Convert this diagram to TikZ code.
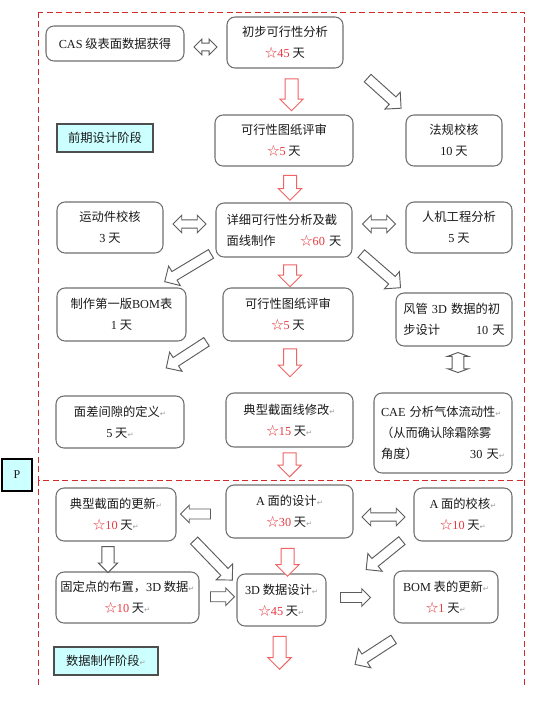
\documentclass[tikz,border=0pt]{standalone}
\usepackage{fontspec}
\setmainfont{Liberation Serif}
\newfontfamily\cjk{Noto Sans CJK SC}
\newfontfamily\markfont{DejaVu Sans}
\usetikzlibrary{calc,positioning,shapes.arrows}
\definecolor{plInk}{HTML}{1A1A1A}
\definecolor{plEdge}{HTML}{6F6F6F}
\definecolor{plFrame}{HTML}{D22B2B}
\definecolor{plDay}{HTML}{E53B40}
\definecolor{plArrowRed}{HTML}{EF6464}
\definecolor{plArrowGray}{HTML}{5C5C5C}
\definecolor{plStage}{HTML}{CCFFFF}
\definecolor{plMark}{HTML}{A0A0A0}
\newcommand{\lat}[1]{{\rmfamily #1}}
\newcommand{\starday}[1]{{\color{plDay}☆\lat{#1}} 天}
\newcommand{\ret}{{\markfont\fontsize{5.5}{6}\selectfont\color{plMark}↵}}
\tikzset{
  pl canvas/.style={fill=white},
  pl frame/.style={draw=plFrame, line width=.75pt, dash pattern=on 4.5pt off 2.6pt},
  pl box/.style 2 args={
    draw=plEdge, line width=.8pt, rounded corners=6pt, fill=white,
    minimum width=#1*.75pt, minimum height=#2*.75pt, inner sep=0pt,
    align=center, text=plInk, font=\cjk\fontsize{9.2}{16}\selectfont
  },
  pl stage/.style 2 args={
    draw=plEdge!70!black, line width=.8pt, fill=plStage,
    minimum width=#1*.75pt, minimum height=#2*.75pt, inner sep=0pt,
    text=plInk, font=\cjk\fontsize{9.2}{12}\selectfont
  },
  pl down/.style={
    single arrow, draw=plArrowRed, fill=white, line width=.75pt, rotate=-90,
    inner sep=0pt, inner ysep=4.5pt, single arrow head extend=3.8pt,
    minimum height=#1*.75pt
  },
  pl way/.style={
    single arrow, draw=plArrowGray, fill=white, line width=.7pt,
    inner sep=0pt, inner ysep=3.4pt, single arrow head extend=4.8pt,
    minimum height=#1*.75pt
  },
  pl both/.style={
    double arrow, draw=plArrowGray, fill=white, line width=.7pt,
    inner sep=0pt, inner ysep=2.8pt, double arrow head extend=3.4pt,
    minimum height=#1*.75pt
  }
}
\begin{document}
\begin{tikzpicture}[x=.75pt,y=-.75pt]
  \path[pl canvas] (0,0) rectangle (538,714);
  \useasboundingbox (0,0) rectangle (538,714);

  % dashed frames of the two stages
  \draw[pl frame] (38,12) rectangle (524,480);
  \draw[pl frame] (38,480) -- (38,686);
  \draw[pl frame] (524,480) -- (524,686);

  % early design stage
  \node[pl box={138}{35}] (cas) at (115,43.5) {\lat{CAS} 级表面数据获得};
  \node[pl box={116}{51}] (prelim) at (285,42.5) {初步可行性分析\\\starday{45}};
  \node[pl box={138}{51}] (review) at (284,140.5) {可行性图纸评审\\\starday{5}};
  \node[pl box={96}{51}] (regs) at (454,140.5) {法规校核\\\lat{10} 天};
  \node[pl box={106}{51}] (motion) at (110,227.5) {运动件校核\\\lat{3} 天};
  \node[pl box={136}{54}, text width=86pt, align=left] (detail) at (284,230)
    {详细可行性分析及截\\面线制作\hfill\starday{60}};
  \node[pl box={106}{51}] (ergo) at (459,227.5) {人机工程分析\\\lat{5} 天};
  \node[pl box={129}{53}] (bom) at (121.5,314.5) {制作第一版\lat{BOM}表\\\lat{1} 天};
  \node[pl box={130}{53}] (review2) at (288,314.5) {可行性图纸评审\\\starday{5}};
  \node[pl box={116}{53}, text width=76pt, align=left] (duct) at (454,319.5)
    {风管 \lat{3D} 数据的初\\步设计\hfill\lat{10} 天};
  \node[pl box={128}{52}] (gap) at (120,422) {面差间隙的定义\ret\\\lat{5} 天\ret};
  \node[pl box={127}{54}] (section) at (289.5,420) {典型截面线修改\ret\\\starday{15}\ret};
  \node[pl box={138}{80}, text width=93pt, align=left] (cae) at (443,433)
    {\lat{CAE} 分析气体流动性\ret\\（从而确认除霜除雾\\角度）\hfill\lat{30} 天\ret};
  \node[pl stage={96}{28}] (early) at (105,138) {前期设计阶段};

  % data stage
  \node[pl box={120}{53}] (secupd) at (116,514.5) {典型截面的更新\ret\\\starday{10}\ret};
  \node[pl box={127}{53}] (adesign) at (289.5,511.5) {\lat{A} 面的设计\ret\\\starday{30}\ret};
  \node[pl box={98}{53}] (acheck) at (463,514.5) {\lat{A} 面的校核\ret\\\starday{10}\ret};
  \node[pl box={143}{51}] (fixpts) at (127.5,597.5) {固定点的布置，\lat{3D} 数据\ret\\\starday{10}\ret};
  \node[pl box={89}{52}] (data3d) at (281.5,600) {\lat{3D} 数据设计\ret\\\starday{45}\ret};
  \node[pl box={104}{52}] (bomupd) at (446,597) {\lat{BOM} 表的更新\ret\\\starday{1}\ret};
  \node[pl stage={104}{28}] (build) at (106,661) {数据制作阶段\ret};
  \node[pl stage={30}{32}, draw=black, font=\rmfamily\fontsize{9}{10}\selectfont] (phase) at (17,475) {P};

  % main red flow
  \node[pl down=32] (r1) at ($(prelim.south)!.5!(review.north)+(7,0)$) {};
  \node[pl down=25] (r2) at ($(review.south)!.5!(detail.north)+(6,0)$) {};
  \node[pl down=22] (r3) at ($(detail.south)!.5!(review2.north)+(4,0)$) {};
  \node[pl down=28] (r4) at ($(review2.south)+(2,18)$) {};
  \node[pl down=24] (r5) at ($(section.south)+(0,14)$) {};
  \node[pl down=28] (r6) at ($(adesign.south)!.5!(data3d.north)+(2,3)$) {};
  \node[pl down=33] (r7) at ($(data3d.south)+(-2,23)$) {};

  % side arrows
  \node[pl both=23, inner ysep=2.5pt, double arrow head extend=3pt] (h1) at ($(cas.east)!.5!(prelim.west)+(0,4)$) {};
  \node[pl both=33] (h2) at ($(motion.east)!.5!(detail.west)+(0,-4.75)$) {};
  \node[pl both=33] (h3) at ($(detail.east)!.5!(ergo.west)+(0,-4.75)$) {};
  \node[pl both=43] (h4) at ($(adesign.east)!.5!(acheck.west)+(0,4)$) {};
  \node[pl both=20, rotate=90, inner ysep=4.1pt, double arrow head extend=3.4pt,
    double arrow tip angle=140] (v2) at ($(duct.south)+(4,16)$) {};
  \node[pl way=45, rotate=-42] (g1) at ($(prelim.south east)!.5!(regs.north west)+(8,0)$) {};
  \node[pl way=54, rotate=211] (g2) at ($(detail.south west)!.5!(bom.north east)+(-11,-6)$) {};
  \node[pl way=52, rotate=-41] (g3) at ($(detail.south east)!.5!(duct.north west)+(5,-6)$) {};
  \node[pl way=48, rotate=213] (g4) at ($(review2.south west)!.5!(gap.north east)+(-15,-15)$) {};
  \node[pl way=30, rotate=180, single arrow head extend=2.8pt] (h5) at ($(secupd.east)!.5!(adesign.west)+(-3,1)$) {};
  \node[pl way=26, rotate=-90, inner ysep=4.3pt, single arrow head extend=2.6pt] (v1) at ($(secupd.south)+(-8,15)$) {};
  \node[pl way=55, rotate=-46] (g5) at ($(secupd.south east)!.5!(data3d.north west)+(5,1)$) {};
  \node[pl way=46, rotate=219] (g6) at ($(acheck.south west)!.5!(data3d.north east)+(16,-4)$) {};
  \node[pl way=24, single arrow head extend=2.8pt] (h6) at ($(fixpts.east)!.5!(data3d.west)+(2,-2)$) {};
  \node[pl way=30, single arrow head extend=2.8pt] (h7) at ($(data3d.east)!.5!(bomupd.west)+(-7,-1)$) {};
  \node[pl way=46, rotate=213] (g7) at ($(bomupd.south west)+(-17,27)$) {};
\end{tikzpicture}
\end{document}
